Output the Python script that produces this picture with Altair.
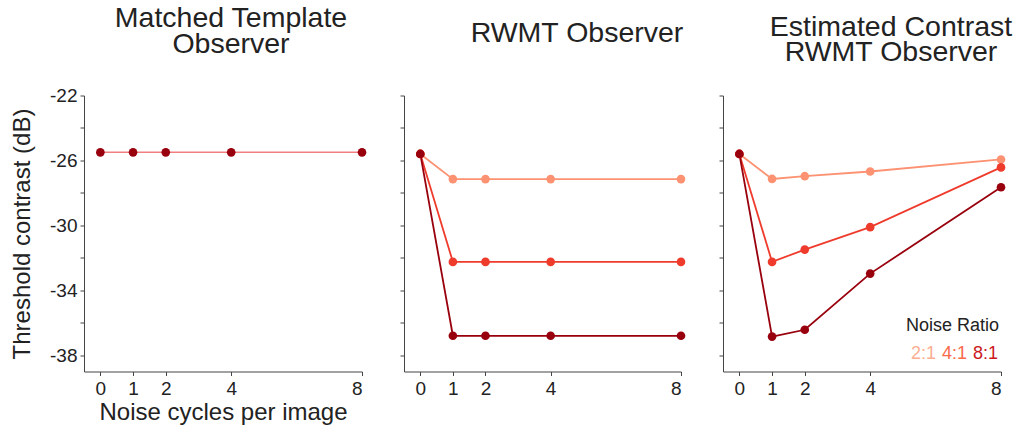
import altair as alt
import pandas as pd

# Noise cycles per image (x positions) and the noise-ratio conditions
noise_cycles = [0, 1, 2, 4, 8]
ratios = ["2:1", "4:1", "8:1"]
line_colors = ["#fc9272", "#ef3b2c", "#99000d"]
legend_colors = ["#fcae91", "#fb6a4a", "#cb181d"]

# Threshold contrast (dB) for each observer
matched_template = [-25.5, -25.5, -25.5, -25.5, -25.5]

rwmt_2to1 = [-25.6, -27.15, -27.15, -27.15, -27.15]
rwmt_4to1 = [-25.6, -32.25, -32.25, -32.25, -32.25]
rwmt_8to1 = [-25.6, -36.8, -36.8, -36.8, -36.8]

est_2to1 = [-25.6, -27.14, -26.97, -26.68, -25.94]
est_4to1 = [-25.6, -32.25, -31.49, -30.11, -26.43]
est_8to1 = [-25.6, -36.85, -36.43, -32.97, -27.65]

y_ticks = [-38, -36, -34, -32, -30, -28, -26, -24, -22]

FONT = "Liberation Sans"
W1, W2, W3, H = 278, 277, 278, 276
X_SCALE = alt.Scale(domain=[-0.5, 8], nice=False, zero=False)
Y_SCALE = alt.Scale(domain=[-39, -22], nice=False, zero=False)


def long_table(series):
    rows = []
    for ratio, values in zip(ratios, series):
        for c, v in zip(noise_cycles, values):
            rows.append({"ratio": ratio, "cycles": c, "threshold": v})
    return pd.DataFrame(rows)


def x_enc(title=None):
    if title:
        axis = alt.Axis(values=noise_cycles, format="d", labelPadding=4,
                        title=title, titlePadding=1.5)
    else:
        axis = alt.Axis(values=noise_cycles, format="d", labelPadding=4, title=None)
    return alt.X("cycles:Q", scale=X_SCALE, axis=axis)


def y_enc(show_labels):
    if show_labels:
        axis = alt.Axis(
            values=y_ticks,
            labelExpr="(datum.value + 38) % 4 == 0 ? '' + datum.value : ''",
            title="Threshold contrast (dB)",
            titlePadding=15,
            labelPadding=3,
        )
    else:
        axis = alt.Axis(values=y_ticks, labels=False, title=None)
    return alt.Y("threshold:Q", scale=Y_SCALE, axis=axis)


color_scale = alt.Scale(domain=ratios, range=line_colors)

# Panel 1: matched template observer (single curve)
mt_df = pd.DataFrame({"cycles": noise_cycles, "threshold": matched_template})
mt_x = x_enc("Noise cycles per image")
panel1 = alt.layer(
    alt.Chart(mt_df).mark_line(color="#f08080", strokeWidth=1.6).encode(x=mt_x, y=y_enc(True)),
    alt.Chart(mt_df).mark_point(filled=True, size=75, opacity=1, color="#99000d").encode(
        x=mt_x, y=y_enc(True)),
).properties(
    width=W1, height=H,
    title=alt.TitleParams(["Matched Template", "Observer"], lineHeight=25.5, dx=8, offset=28.5),
)


def ratio_panel(df, width, title, dx, offset, with_legend=False):
    layers = [
        alt.Chart(df).mark_line(strokeWidth=1.8).encode(
            x=x_enc(),
            y=y_enc(False),
            color=alt.Color("ratio:N", scale=color_scale, legend=None),
            detail="ratio:N",
        ),
        alt.Chart(df).mark_point(filled=True, size=75, opacity=1).encode(
            x=x_enc(),
            y=y_enc(False),
            color=alt.Color("ratio:N", scale=color_scale, legend=None),
            order=alt.Order("ratio:N"),
        ),
    ]
    if with_legend:
        layers.append(
            alt.Chart(pd.DataFrame({"t": ["Noise Ratio"]})).mark_text(
                font=FONT, fontSize=18, align="right", baseline="middle", color="#222"
            ).encode(text="t:N", x=alt.value(width - 2), y=alt.value(230))
        )
        for label, col, px in zip(ratios, legend_colors, [188, 219, 250]):
            layers.append(
                alt.Chart(pd.DataFrame({"t": [label]})).mark_text(
                    font=FONT, fontSize=18, align="left", baseline="middle", color=col
                ).encode(text="t:N", x=alt.value(px), y=alt.value(258))
            )
    return alt.layer(*layers).properties(
        width=width, height=H,
        title=alt.TitleParams(title, lineHeight=25.5, dx=dx, offset=offset),
    )


panel2 = ratio_panel(long_table([rwmt_2to1, rwmt_4to1, rwmt_8to1]), W2,
                     "RWMT Observer", 34.5, 48)
panel3 = ratio_panel(long_table([est_2to1, est_4to1, est_8to1]), W3,
                     ["Estimated Contrast", "RWMT Observer"], 29, 28.5, with_legend=True)

chart = alt.hconcat(panel1, panel2, panel3, spacing=42, bounds="flush").properties(
    padding={"left": 10, "top": 3.5, "right": 0, "bottom": 0}
).configure_view(stroke=None).configure_axis(
    grid=False,
    domainColor="#444",
    tickColor="#444",
    tickSize=4,
    labelFont=FONT,
    titleFont=FONT,
    labelFontSize=19,
    titleFontSize=24,
    titleFontWeight="normal",
    labelColor="#222",
    titleColor="#222",
).configure_title(
    font=FONT, fontSize=28.5, fontWeight="normal", color="#222", anchor="middle"
)

chart.save("out.html", embed_options={"renderer": "svg", "actions": False})
